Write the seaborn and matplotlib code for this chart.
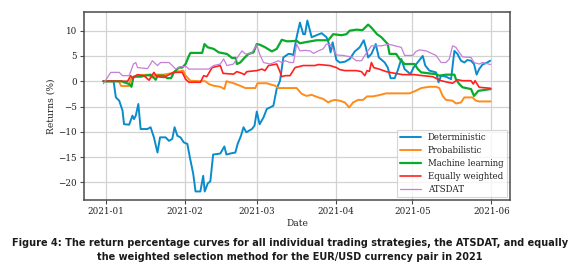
import numpy as np
import pandas as pd
import matplotlib
matplotlib.use("Agg")
import matplotlib.pyplot as plt
import matplotlib.dates as mdates
import seaborn as sns

# ---- data (days since 2021-01-01, returns in %) ----
det_days = [-1, 3, 3.9, 5.2, 6.5, 7.1, 9.1, 10.4, 11, 11.7, 12.7, 13.6, 16.3, 17.5, 18.8, 20.2, 21.2, 23.4, 24.7, 26, 26.9, 28, 29.2, 30.5, 31.9, 32.9, 34.2, 35.1, 37, 38.1, 38.7, 39.9, 40.9, 42, 44.8, 46.4, 47.2, 48.7, 50.7, 51.6, 52.9, 53.9, 55, 57.2, 58.2, 59.1, 60.2, 61.7, 63, 65.6, 66.9, 68.2, 69.5, 71.5, 72.1, 73.4, 74.7, 76, 77.3, 78, 78.9, 80.6, 82.5, 84.5, 86.4, 87.3, 88, 88.8, 90.3, 91.6, 93.6, 95.5, 97.5, 99.4, 101, 101.8, 102.7, 104, 105.7, 106.9, 109.2, 110.4, 111.5, 113.1, 114.3, 115.7, 117, 119.3, 120.5, 124.1, 125.1, 126.7, 129.3, 130.3, 131.3, 133.2, 135.2, 136.5, 137.7, 139.1, 140.4, 141.6, 143, 144.2, 145.2, 146.2, 147.5, 149.4, 150.5]
det_vals = [0, 0, -3.2, -3.85, -5.8, -8.5, -8.6, -6.8, -7.5, -6.8, -4.5, -9.45, -9.45, -9.1, -11.1, -14.1, -11.1, -11.1, -11.8, -11.4, -9.1, -10.8, -11.1, -12.1, -12.4, -15.1, -18.3, -21.8, -21.8, -18.7, -21.8, -20.2, -19.8, -14.5, -14.3, -12.9, -14.5, -14.3, -14.1, -12.4, -10.8, -9.1, -10.1, -9.45, -8.8, -6.0, -8.5, -7.2, -5.5, -4.85, -1.5, 0.1, 4.7, 5.4, 5.4, 5.2, 8.7, 11.6, 9.3, 9.3, 12, 8.7, 9.1, 9.5, 8.7, 7.5, 5.7, 7.7, 4.2, 3.7, 3.85, 4.4, 5.9, 6.7, 8.1, 6.7, 4.7, 5.4, 7.35, 4.7, 3.7, 2.7, 0.6, 0.6, 2.1, 4.4, 2.4, 1.4, 2.7, 5.0, 3.1, 2.1, 1.75, -0.2, 1.1, 0.9, 0.4, 6.0, 5.4, 4.05, 3.7, 4.2, 4.05, 3.4, 1.3, 2.4, 3.3, 3.7, 4.05]

prob_days = [-1, 5, 6, 9, 9.7, 11.7, 16.3, 18.2, 19.5, 22.7, 25.3, 28, 30.3, 31.2, 33.1, 37, 39, 40.3, 42.2, 44.8, 46.4, 47.2, 48.5, 50, 52.6, 54.6, 58.5, 59.4, 63, 66.3, 67.6, 72.1, 74.7, 76.7, 78.5, 80.6, 83.2, 85.1, 87.1, 88.4, 89.7, 91.6, 93.6, 95.3, 96.8, 98.8, 100.7, 102.3, 104.6, 106.6, 109.8, 113.7, 118.9, 120.9, 123.5, 126.7, 129.3, 130.6, 131.9, 133.2, 135.8, 137.1, 139.1, 140.4, 143.6, 144.9, 146.2, 150.7]
prob_vals = [0, 0, -0.95, -0.95, 0.4, 1.1, 1.3, 0.75, 1.3, 1.3, 1.55, 1.9, 2.1, 1.1, 0.1, 0, 0, -0.55, -0.9, -1.1, -1.55, 0, -0.2, -0.4, -0.9, -1.35, -1.35, -0.4, -0.4, -0.9, -1.35, -1.35, -1.35, -2.5, -2.9, -2.7, -3.2, -3.5, -4.2, -3.85, -3.7, -3.85, -4.2, -5.2, -4.2, -3.7, -3.7, -3.0, -3.0, -2.8, -2.4, -2.4, -2.4, -2.0, -1.35, -1.1, -1.1, -1.35, -2.9, -3.7, -3.85, -4.4, -4.2, -3.2, -3.2, -3.85, -4.0, -4.0]

ml_days = [-1, 6, 9.1, 10, 10.8, 13.6, 17.5, 19.5, 20.2, 22.7, 24, 25.5, 26.6, 28.6, 29.9, 31.2, 32.5, 33.1, 37.7, 38.6, 39.9, 42.2, 44.2, 47.4, 49.4, 50.8, 51.3, 52.6, 54.6, 55.9, 57.8, 59.1, 60.4, 62.4, 65, 66.9, 68.9, 70.8, 72.1, 74.7, 76, 78, 82.5, 87.1, 89, 92.3, 94.2, 95.5, 98.1, 100.5, 102.7, 104, 106.2, 107.9, 110.4, 111.1, 113.7, 115, 117, 120.9, 122.2, 123.5, 126.7, 129.3, 130.6, 133.2, 136.5, 137.1, 138.4, 139.7, 143, 144.2, 145.9, 150.7]
ml_vals = [0, 0, -0.55, -1.1, 0.9, 0.9, 1.3, 0.3, 1.1, 1.1, 0.6, 0.6, 1.75, 2.7, 2.7, 3.4, 5.0, 5.6, 5.6, 7.35, 6.7, 6.4, 5.7, 5.4, 4.6, 4.6, 3.4, 3.7, 4.8, 5.4, 5.7, 7.35, 7.2, 6.7, 5.9, 6.4, 8.2, 7.9, 7.9, 8.0, 7.5, 7.7, 8.1, 8.1, 9.3, 9.1, 9.3, 10, 10.2, 10.1, 11.2, 10.6, 9.3, 8.7, 7.35, 5.4, 5.4, 4.4, 3.4, 3.4, 2.4, 1.75, 1.55, 1.4, 1.1, 1.3, 1.3, 0.4, -0.55, -1.2, -1.55, -2.9, -1.9, -1.55]

eq_days = [-1, 8.5, 9.7, 10.4, 12.4, 14.9, 16.9, 18.8, 19.9, 22.7, 24.7, 26.6, 29.9, 31.2, 32.5, 37, 38.3, 39.5, 41.6, 44.8, 45.9, 50, 51.3, 53.3, 54.2, 55.2, 59.1, 61.1, 62.3, 63.7, 66.9, 68, 68.9, 70.2, 72.1, 74.1, 77.3, 81.9, 83.2, 87.7, 90.3, 91.6, 93.6, 98.1, 100.1, 101.4, 102.3, 103.2, 104, 104.9, 107, 109.8, 111.1, 116.3, 120.9, 124.1, 128, 131.3, 133.9, 135.8, 137.7, 139.7, 143, 143.9, 144.6, 146.2, 150.7]
eq_vals = [0, 0, 1.1, 0.6, 1.3, 1.1, 0.2, 1.75, 0.9, 0.75, 1.3, 1.75, 1.75, 0.4, -0.2, -0.2, 1.1, 0.9, 2.7, 3.1, 1.55, 1.4, 1.9, 1.55, 1.3, 1.9, 2.1, 2.4, 2.1, 3.1, 3.4, 2.1, 0.9, 1.1, 1.1, 2.7, 3.1, 3.1, 3.3, 3.1, 2.7, 2.3, 2.1, 2.1, 1.9, 1.1, 2.1, 1.95, 3.7, 2.7, 2.4, 1.9, 1.75, 1.3, 1.3, 1.1, 0.9, 0.1, -0.2, -0.4, 0.3, 0.1, 0.1, -0.55, 0.1, -1.2, -1.4]

ats_days = [-1, 1.9, 5.2, 6.5, 9.1, 10.8, 11.7, 12.4, 16.3, 17.2, 18.2, 20.2, 21.4, 24.7, 26, 27.3, 29.2, 31.5, 32.5, 37, 40.3, 42.2, 44.8, 46.1, 47.4, 50, 51.9, 53.3, 54.6, 56.8, 58.1, 59.1, 60.2, 61.7, 64.3, 67.6, 68.9, 70.2, 72.1, 73.5, 74.7, 76, 78, 80, 81.3, 83.2, 85.1, 86.4, 88, 90.3, 92.9, 96.1, 98.1, 100.1, 101.4, 104, 107.9, 110.8, 115.7, 117, 120.2, 121.5, 122.8, 125.4, 129.3, 131.3, 133.2, 134.5, 135.8, 137.1, 138.4, 139.7, 143, 144.2, 146.2, 147.5, 150.7]
ats_vals = [-0.5, 1.75, 1.75, 1.1, 1.1, 3.4, 3.7, 2.7, 2.5, 3.2, 4.05, 3.1, 3.7, 3.7, 3.1, 2.4, 2.9, 2.9, 2.4, 2.4, 2.4, 3.1, 3.4, 4.4, 3.1, 3.4, 5.0, 6.0, 5.4, 5.4, 6.4, 7.2, 5.4, 3.7, 3.4, 4.05, 3.7, 4.05, 3.7, 3.7, 7.35, 6.0, 6.1, 6.0, 5.5, 6.0, 6.4, 7.35, 7.2, 5.2, 5.1, 4.8, 4.05, 4.05, 5.1, 7.0, 7.0, 7.3, 6.7, 5.1, 5.1, 5.9, 6.2, 6.0, 5.1, 3.7, 3.7, 4.4, 7.0, 6.7, 5.7, 4.8, 4.7, 3.7, 3.4, 3.7, 3.3]

labels = ["Deterministic", "Probabilistic", "Machine learning", "Equally weighted", "ATSDAT"]
colors = ["#0a8ccc", "#ff8c1a", "#0aaa2a", "#ff2020", "#c67fd6"]
widths = [1.4, 1.4, 1.6, 1.2, 0.9]
caption = ("Figure 4: The return percentage curves for all individual trading strategies, the ATSDAT, and equally\n"
           "the weighted selection method for the EUR/USD currency pair in 2021")

series = [(det_days, det_vals), (prob_days, prob_vals), (ml_days, ml_vals),
          (eq_days, eq_vals), (ats_days, ats_vals)]

start = pd.Timestamp("2021-01-01")

sns.set_style("white")
plt.rcParams["font.family"] = ["DejaVu Serif"]

fig = plt.figure(figsize=(5.8, 2.75), dpi=100)
ax = fig.add_axes([84/580, 1-200/275, 426/580, 188/275])

for (d, v), lab, c, w in zip(series, labels, colors, widths):
    dates = start + pd.to_timedelta(np.array(d), unit="D")
    df = pd.DataFrame({"Date": dates, "Returns": v})
    sns.lineplot(data=df, x="Date", y="Returns", ax=ax, color=c, lw=w,
                 label=lab, estimator=None, sort=False)

ax.margins(x=0.05, y=0.05)
ax.xaxis.set_major_locator(mdates.MonthLocator())
ax.xaxis.set_major_formatter(mdates.DateFormatter("%Y-%m"))
ax.set_yticks([-20, -15, -10, -5, 0, 5, 10])
ax.grid(True, color="#d2d2d2", lw=0.9)
ax.set_axisbelow(True)
for s in ax.spines.values():
    s.set_color("#4a4a4a")
    s.set_linewidth(1.1)
ax.tick_params(axis="both", labelsize=6.3, length=3, width=0.8, color="#4a4a4a",
               labelcolor="#222222", pad=2, direction="out", bottom=True, left=True)
ax.set_xlabel("Date", fontsize=6.6, color="#222222", labelpad=2)
ax.set_ylabel("Returns (%)", fontsize=6.6, color="#222222", labelpad=2)

leg = ax.legend(loc="lower right", fontsize=6.2, handlelength=2.4, frameon=True,
                borderpad=0.4, labelspacing=0.45, handletextpad=0.8,
                borderaxespad=0.35, fancybox=False)
leg.get_frame().set_edgecolor("#cccccc")
leg.get_frame().set_linewidth(0.8)
for t in leg.get_texts():
    t.set_color("#222222")

cap = fig.text(0.5, 1-250/275, caption, ha="center", va="center", fontsize=7,
               fontweight="bold", family="DejaVu Sans", color="#1a1a1a",
               linespacing=1.45)
fig.canvas.draw()
bb = cap.get_window_extent()
cap.set_fontsize(7 * 556 / bb.width)

fig.savefig("out.png", dpi=100, facecolor="white")
